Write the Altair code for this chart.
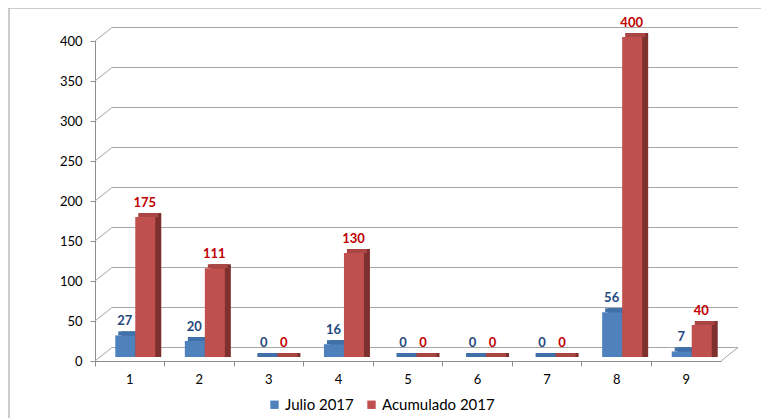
import altair as alt
import pandas as pd

categories = ["1", "2", "3", "4", "5", "6", "7", "8", "9"]
julio = [27, 20, 0, 16, 0, 0, 0, 56, 7]
acumulado = [175, 111, 0, 130, 0, 0, 0, 400, 40]
series_names = ["Julio 2017", "Acumulado 2017"]
y_ticks = [0, 50, 100, 150, 200, 250, 300, 350, 400]

front_colors = ["#4F81BD", "#C0504D"]
top_colors = ["#4070AA", "#A94542"]
side_colors = ["#335A88", "#7E302E"]
label_colors = ["#1F497D", "#C00000"]

rows = []
for c, j, a in zip(categories, julio, acumulado):
    rows.append({"cat": c, "serie": series_names[0], "valor": j, "zero": 0})
    rows.append({"cat": c, "serie": series_names[1], "valor": a, "zero": 0})
df = pd.DataFrame(rows)
ticks_df = pd.DataFrame({"v": y_ticks})
one = pd.DataFrame({"a": [0]})

FONT = "Lato"
W, H = 626, 320
DX, DY = 17, -13.5
BAR_W = 20
SIDE_DX, SIDE_DY = 6, -4
FLOOR = -4

yscale = alt.Scale(domain=[0, 400], nice=False)
xscale = alt.Scale(domain=categories, paddingInner=0, paddingOuter=0)

x_axis = alt.Axis(
    title=None, labelAngle=0, bandPosition=0, tickSize=5,
    labelPadding=7, domainColor="#8c8c8c", tickColor="#8c8c8c",
    labelFont=FONT, labelFontSize=13, labelColor="#000000", grid=False,
)
y_axis = alt.Axis(
    title=None, values=y_ticks, grid=False, tickSize=5,
    labelPadding=8, domainColor="#8c8c8c", tickColor="#8c8c8c",
    labelFont=FONT, labelFontSize=13, labelColor="#000000",
)


def X():
    return alt.X("cat:O", scale=xscale, axis=x_axis, title=None)


def Y(field):
    return alt.Y(field, scale=yscale, axis=y_axis, title=None)


border = alt.Chart(one).mark_rect(
    fill="transparent", stroke="#9a9a9a", strokeWidth=1
).encode(
    x=alt.value(-86), x2=alt.value(667), y=alt.value(-33), y2=alt.value(430)
)

back_grid = alt.Chart(ticks_df).mark_rule(
    color="#a6a6a6", strokeWidth=1, yOffset=DY
).encode(
    x=alt.value(DX), x2=alt.value(W + DX),
    y=Y("v:Q"),
)

diag = alt.Chart(ticks_df).mark_rule(
    color="#a6a6a6", strokeWidth=1, y2Offset=DY
).encode(
    x=alt.value(0), x2=alt.value(DX),
    y=Y("v:Q"), y2="v:Q",
)

floor_right = alt.Chart(ticks_df).transform_filter(alt.datum.v == 0).mark_rule(
    color="#a6a6a6", strokeWidth=1, y2Offset=DY
).encode(
    x=alt.value(W), x2=alt.value(W + DX),
    y=Y("v:Q"), y2="v:Q",
)

color_scale = alt.Scale(domain=series_names, range=front_colors)

layers = [border, back_grid, diag, floor_right]
offsets = [-4.5, 15.5]
label_dx = [-5, 15]
for i, s in enumerate(series_names):
    base = alt.Chart(df).transform_filter(alt.datum.serie == s)
    side = base.mark_bar(
        size=BAR_W, color=side_colors[i],
        xOffset=offsets[i] + SIDE_DX, yOffset=FLOOR + SIDE_DY, y2Offset=FLOOR,
    ).encode(
        x=X(),
        y=Y("valor:Q"),
        y2="zero:Q",
    )
    top = base.mark_bar(
        size=BAR_W, color=top_colors[i],
        xOffset=offsets[i] + SIDE_DX / 2, yOffset=FLOOR + SIDE_DY, y2Offset=FLOOR,
    ).encode(
        x=X(),
        y=Y("valor:Q"),
        y2="valor:Q",
    )
    front = base.mark_bar(
        size=BAR_W, xOffset=offsets[i], yOffset=FLOOR, y2Offset=FLOOR,
    ).encode(
        x=X(),
        y=Y("valor:Q"),
        y2="zero:Q",
        color=alt.Color(
            "serie:N", scale=color_scale,
            legend=alt.Legend(
                title=None, orient="none", direction="horizontal",
                legendX=172, legendY=356, symbolType="square",
                symbolSize=70, symbolStrokeWidth=0, labelFontSize=15,
                labelFont=FONT, labelColor="#000000", columnPadding=10,
                labelOffset=3, padding=0,
            ),
        ),
    )
    text = base.mark_text(
        font=FONT, fontSize=13, fontWeight="bold", color=label_colors[i],
        dx=label_dx[i], dy=FLOOR - 14.5, baseline="middle", align="center",
    ).encode(
        x=X(),
        y=Y("valor:Q"),
        text="valor:Q",
    )
    layers += [side, top, front, text]

chart = alt.layer(*layers).properties(
    width=W, height=H,
    padding={"left": 87, "top": 33, "right": 40, "bottom": 57},
    autosize=alt.AutoSizeParams(type="none"),
).configure_view(stroke="transparent")

chart.save("out.html", embed_options={"renderer": "svg", "actions": False})
